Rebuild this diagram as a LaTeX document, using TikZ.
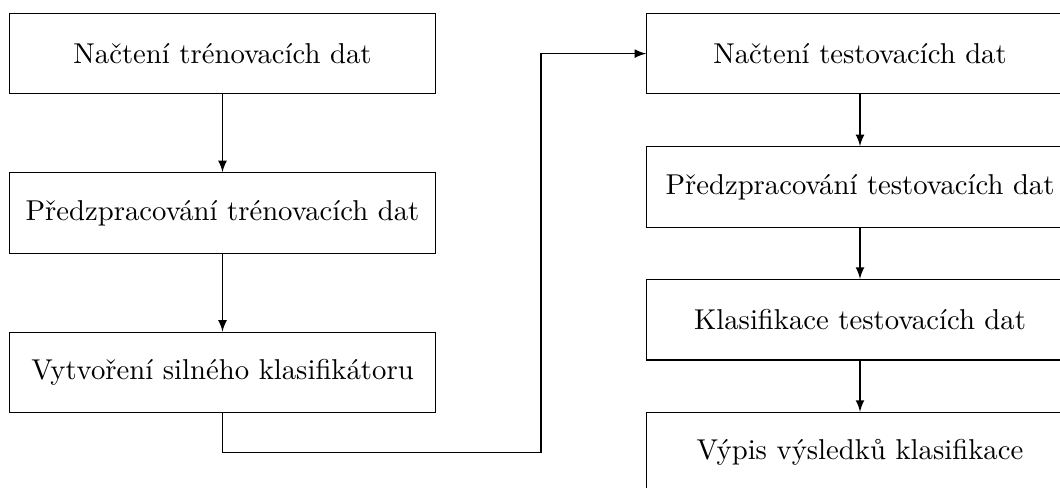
\documentclass[tikz,border=0pt]{standalone}
\usetikzlibrary{arrows}
\begin{document}
\begin{tikzpicture}[x=0.34843pt,y=-0.34843pt,
  box/.style={draw,rectangle,minimum width=148.6pt,minimum height=28.05pt,inner sep=2pt,font=\normalsize},
  flow/.style={draw,-latex}]
\useasboundingbox (0,0) rectangle (1060,488);
\clip (0,0) rectangle (1060,488);
\node[box] (l1) at (222.5,53.6) {Načtení trénovacích dat};
\node[box] (l2) at (222.5,213) {Předzpracování trénovacích dat};
\node[box] (l3) at (222.5,372.5) {Vytvoření silného klasifikátoru};
\node[box] (r1) at (860,53.6) {Načtení testovacích dat};
\node[box] (r2) at (860,187) {Předzpracování testovacích dat};
\node[box] (r3) at (860,319.7) {Klasifikace testovacích dat};
\node[box] (r4) at (860,452.6) {Výpis výsledků klasifikace};
\coordinate (c1) at (222.5,452.3);
\coordinate (c2) at (541,452.3);
\coordinate (c3) at (541,53.6);
\draw[flow] (l1) -- (l2);
\draw[flow] (l2) -- (l3);
\draw[flow] (l3.south) -- (c1) -- (c2) -- (c3) -- (r1.west);
\draw[flow] (r1) -- (r2);
\draw[flow] (r2) -- (r3);
\draw[flow] (r3) -- (r4);
\end{tikzpicture}
\end{document}
